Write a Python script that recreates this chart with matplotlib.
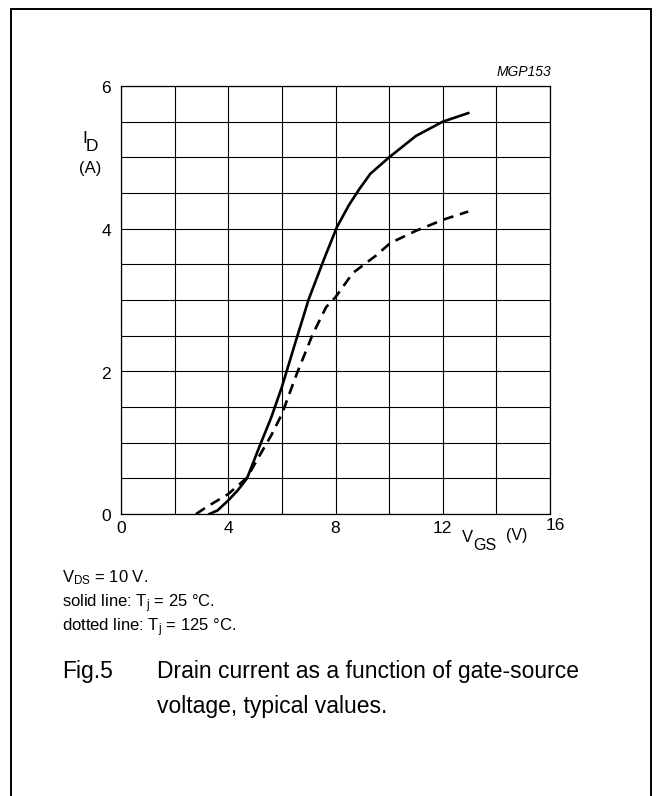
import matplotlib
matplotlib.use("Agg")
import matplotlib.pyplot as plt
from matplotlib.patches import Rectangle

plt.rcParams["font.family"] = ["Liberation Sans", "DejaVu Sans"]
plt.rcParams["mathtext.fontset"] = "custom"
plt.rcParams["mathtext.rm"] = "Liberation Sans"
plt.rcParams["mathtext.it"] = "Liberation Sans:italic"

# values (V_GS in V, I_D in A)
vgs_25 = [3.3, 3.6, 4.0, 4.35, 4.7, 5.2, 5.6, 6.0, 6.5, 7.0, 7.6, 8.05, 8.5, 8.88, 9.3, 10.0, 11.0, 12.0, 12.95]
id_25 = [0.0, 0.05, 0.19, 0.33, 0.50, 0.98, 1.35, 1.78, 2.40, 3.01, 3.60, 4.02, 4.33, 4.55, 4.77, 5.0, 5.30, 5.50, 5.62]

vgs_125 = [2.8, 3.2, 3.6, 4.0, 4.7, 5.2, 5.6, 6.0, 6.55, 7.15, 7.65, 8.0, 8.65, 9.5, 10.05, 11.0, 12.05, 12.95]
id_125 = [0.0, 0.1, 0.19, 0.28, 0.51, 0.84, 1.1, 1.40, 1.96, 2.52, 2.9, 3.04, 3.38, 3.62, 3.80, 3.97, 4.13, 4.24]

x_ticks = [0, 4, 8, 12]
y_ticks = [0, 2, 4, 6]

W, H = 656, 796


def fx(px):
    return px / W


def fy(py):
    return 1 - py / H


fig = plt.figure(figsize=(W / 100, H / 100), dpi=100)
fig.patches.append(Rectangle((fx(11), -0.01), fx(651) - fx(11), fy(9) + 0.01,
                             transform=fig.transFigure, fill=False, lw=1.4, ec="black"))

ax = fig.add_axes([fx(121), fy(514), fx(550) - fx(121), fy(86) - fy(514)])
ax.set_xlim(0, 16)
ax.set_ylim(0, 6)
ax.set_xticks([i * 2 for i in range(9)])
ax.set_yticks([i * 0.5 for i in range(13)])
ax.grid(True, color="black", lw=0.8)
ax.tick_params(length=0, labelbottom=False, labelleft=False)
for s in ax.spines.values():
    s.set_linewidth(0.9)

ax.plot(vgs_25, id_25, color="black", lw=1.9, solid_joinstyle="round")
ln, = ax.plot(vgs_125, id_125, color="black", lw=1.9)
ln.set_dashes([4, 2.6])

# tick labels
for v in x_ticks:
    ax.text(v, -0.1, str(v), ha="center", va="top", fontsize=12.5, clip_on=False)
ax.text(16.2, -0.05, "16", ha="center", va="top", fontsize=12.5, clip_on=False)
for v in y_ticks:
    ax.text(-0.37, v - 0.04, str(v), ha="right", va="center", fontsize=12.5, clip_on=False)

# axis labels with big, dropped subscripts
fig.text(fx(462), fy(542), "V", ha="left", va="baseline", fontsize=12)
fig.text(fx(473), fy(550), "GS", ha="left", va="baseline", fontsize=11.5)
fig.text(fx(506), fy(540), "(V)", ha="left", va="baseline", fontsize=11.5)

fig.text(fx(82), fy(143), "I", ha="left", va="baseline", fontsize=12.5)
fig.text(fx(86), fy(151), "D", ha="left", va="baseline", fontsize=12.5)
fig.text(fx(90), fy(168), "(A)", ha="center", va="center", fontsize=12)
fig.text(fx(551), fy(72), "MGP153", ha="right", va="center", fontsize=10, style="italic")

# notes below chart
fig.text(fx(62), fy(582), r"$\mathregular{V_{DS}}$ = 10 V.", ha="left", va="baseline", fontsize=12)
fig.text(fx(62), fy(607), r"solid line: $\mathregular{T_j}$ = 25 °C.", ha="left", va="baseline", fontsize=12)
fig.text(fx(62), fy(631), r"dotted line: $\mathregular{T_j}$ = 125 °C.", ha="left", va="baseline", fontsize=12)

fig.text(fx(62), fy(678), "Fig.5", ha="left", va="baseline", fontsize=16.5)
fig.text(fx(157), fy(678), "Drain current as a function of gate-source", ha="left", va="baseline", fontsize=16.5)
fig.text(fx(157), fy(713), "voltage, typical values.", ha="left", va="baseline", fontsize=16.5)

fig.savefig("out.png", dpi=100)
